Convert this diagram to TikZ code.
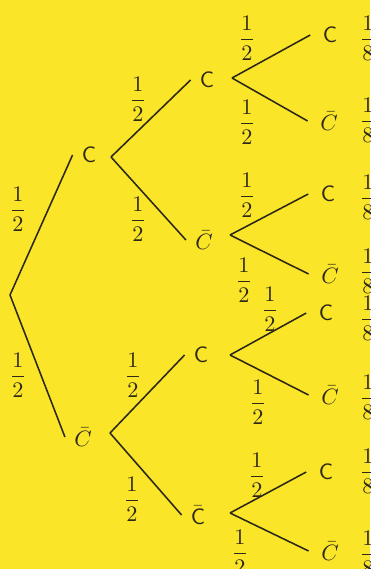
\documentclass[tikz,border=0pt]{standalone}
\usepackage{amsmath}
\usepackage{amssymb}
\usepackage{xcolor}
\definecolor{paper}{RGB}{250,229,40}
\definecolor{ink}{RGB}{45,40,25}

\begin{document}
\begin{tikzpicture}[x=0.45pt,y=-0.45pt,
    lab/.style={inner sep=4pt,text=ink},
    leaf/.style={inner sep=5.5pt,text=ink},
    prob/.style={inner sep=0pt,text=ink},
    branch/.style={draw=ink,line width=0.7pt}]
  \fill[paper] (0,0) rectangle (370,569);
  \useasboundingbox (0,0) rectangle (370,569);

  % first toss
  \coordinate (r) at (10,295);
  \node[lab] (c) at (89,155) {\textsf{C}};
  \node[lab] (cb) at (83,437) {$\bar{C}$};
  \node[prob] (pc) at (18,209) {$\dfrac{1}{2}$};
  \node[prob] (pcb) at (18,375) {$\dfrac{1}{2}$};
  \draw[branch] (r) -- (c.west);
  \draw[branch] (r) -- (cb.west);

  % second toss
  \coordinate (fc) at (111,157);
  \coordinate (fcb) at (110,433);
  \node[lab] (cc) at (207,80) {\textsf{C}};
  \node[lab] (ccb) at (204,240) {$\bar{C}$};
  \node[lab] (cbc) at (201,355) {\textsf{C}};
  \node[lab] (cbcb) at (198,515) {$\bar{\mathsf{C}}$};
  \node[prob] (pcc) at (138,99) {$\dfrac{1}{2}$};
  \node[prob] (pccb) at (138,219) {$\dfrac{1}{2}$};
  \node[prob] (pcbc) at (133,375) {$\dfrac{1}{2}$};
  \node[prob] (pcbcb) at (132,499) {$\dfrac{1}{2}$};
  \draw[branch] (fc) -- (cc.west);
  \draw[branch] (fc) -- (ccb.west);
  \draw[branch] (fcb) -- (cbc.west);
  \draw[branch] (fcb) -- (cbcb.west);

  % third toss
  \coordinate (fcc) at (232,78);
  \coordinate (fccb) at (230,235);
  \coordinate (fcbc) at (230,355);
  \coordinate (fcbcb) at (230,513);
  \node[leaf] (ccc) at (330,35) {\textsf{C}};
  \node[leaf] (cccb) at (329,121) {$\bar{C}$};
  \node[leaf] (ccbc) at (328,194) {\textsf{C}};
  \node[leaf] (ccbcb) at (330,274) {$\bar{C}$};
  \node[leaf] (cbcc) at (326,313) {\textsf{C}};
  \node[leaf] (cbccb) at (330,395) {$\bar{C}$};
  \node[leaf] (cbcbc) at (326,472) {\textsf{C}};
  \node[leaf] (cbcbcb) at (330,551) {$\bar{C}$};
  \node[prob] at (247,38) {$\dfrac{1}{2}$};
  \node[prob] at (247,122) {$\dfrac{1}{2}$};
  \node[prob] at (247,195) {$\dfrac{1}{2}$};
  \node[prob] at (244,280) {$\dfrac{1}{2}$};
  \node[prob] at (270,309) {$\dfrac{1}{2}$};
  \node[prob] at (258,402) {$\dfrac{1}{2}$};
  \node[prob] at (257,475) {$\dfrac{1}{2}$};
  \node[prob] at (240,552) {$\dfrac{1}{2}$};
  \draw[branch] (fcc) -- (ccc.west);
  \draw[branch] (fcc) -- (cccb.west);
  \draw[branch] (fccb) -- (ccbc.west);
  \draw[branch] (fccb) -- (ccbcb.west);
  \draw[branch] (fcbc) -- (cbcc.west);
  \draw[branch] (fcbc) -- (cbccb.west);
  \draw[branch] (fcbcb) -- (cbcbc.west);
  \draw[branch] (fcbcb) -- (cbcbcb.west);

  % outcomes
  \node[prob] (o1) at (368,38) {$\dfrac{1}{8}$};
  \node[prob] (o2) at (368,120) {$\dfrac{1}{8}$};
  \node[prob] (o3) at (368,197) {$\dfrac{1}{8}$};
  \node[prob] (o4) at (368,271) {$\dfrac{1}{8}$};
  \node[prob] (o5) at (368,318) {$\dfrac{1}{8}$};
  \node[prob] (o6) at (368,397) {$\dfrac{1}{8}$};
  \node[prob] (o7) at (368,471) {$\dfrac{1}{8}$};
  \node[prob] (o8) at (368,553) {$\dfrac{1}{8}$};
\end{tikzpicture}
\end{document}
